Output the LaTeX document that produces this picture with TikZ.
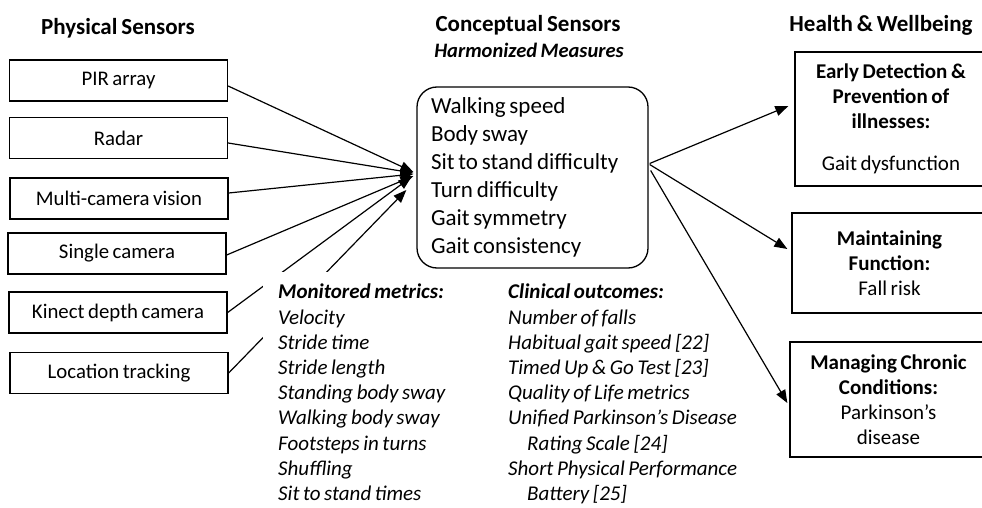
\documentclass[tikz,border=0pt]{standalone}
\usepackage{fontspec}
\setmainfont{Carlito}[WordSpace=0.75]
\usetikzlibrary{arrows.meta,backgrounds}
\begin{document}
\begin{tikzpicture}[x=1pt,y=-1pt,
  sbox/.style={draw, line width=1.3pt, minimum width=218pt, minimum height=41pt, inner sep=0pt, font=\fontsize{20.8}{24}\selectfont},
  title/.style={inner sep=0pt, font=\fontsize{23}{28}\selectfont\bfseries},
  subtitle/.style={inner sep=0pt, font=\fontsize{20.5}{25}\selectfont\bfseries\itshape},
  cbox/.style={draw, line width=1.3pt, rounded corners=20pt, text width=203pt, inner xsep=14pt, inner ysep=0pt, minimum height=181pt, align=left, font=\fontsize{23}{28}\selectfont},
  hbox/.style={draw, line width=1.3pt, inner sep=0pt, align=center, font=\fontsize{21}{25}\selectfont},
  metric/.style={anchor=north west, align=left, inner xsep=15pt, inner ysep=12pt, font=\fontsize{21}{25.2}\selectfont\itshape},
  conn/.style={line width=1.2pt},
  arr/.style={conn, -{Triangle[length=13pt,width=10pt]}}
]
\useasboundingbox (0,0) rectangle (982,508);
\clip (0,0) rectangle (982,508);

% titles
\node[title] (tphys) at (118,28) {Physical Sensors};
\node[title] (tconc) at (528,25) {Conceptual Sensors};
\node[subtitle] (tharm) at (529,50) {Harmonized Measures};
\node[title] (thealth) at (881,25) {Health \& Wellbeing};

% physical sensors
\node[sbox] (pir)  at (118.5,80.5) {PIR array};
\node[sbox] (rad)  at (118.5,138) {Radar};
\node[sbox] (mcv)  at (119,198.5) {Multi-camera vision};
\node[sbox] (sc)   at (117,253.5) {Single camera};
\node[sbox] (kin)  at (118,312.5) {Kinect depth camera};
\node[sbox] (loc)  at (119,373) {Location tracking};

% conceptual sensors
\node[cbox] (cs) at (532.5,177.5) {\spaceskip=0pt\xspaceskip=0pt\relax Walking speed\\Body sway\\Sit to stand difficulty\\Turn difficulty\\Gait symmetry\\Gait consistency};

% health boxes
\node[hbox, minimum width=192pt, minimum height=134pt] (ed) at (891,119)
  {\textbf{Early Detection \&}\\\textbf{Prevention of}\\\textbf{illnesses:}\\[17pt]Gait dysfunction};
\node[hbox, minimum width=195pt, minimum height=100pt] (mf) at (889.5,263)
  {\textbf{Maintaining}\\\textbf{Function:}\\Fall risk};
\node[hbox, minimum width=197pt, minimum height=115pt] (mc) at (888.5,399.5)
  {\textbf{Managing Chronic}\\\textbf{Conditions:}\\Parkinson’s\\disease};

% monitored metrics (white background hides the connectors behind it)
\node[metric, fill=white] (mm) at (263,272)
  {\textbf{Monitored metrics:}\\Velocity\\Stride time\\Stride length\\Standing body sway\\Walking body sway\\Footsteps in turns\\Shuffling\\Sit to stand times};
\node[metric] (co) at (493,272)
  {\textbf{Clinical outcomes:}\\Number of falls\\Habitual gait speed [22]\\Timed Up \& Go Test [23]\\Quality of Life metrics\\Unified Parkinson’s Disease\\\hspace*{19pt}Rating Scale [24]\\Short Physical Performance\\\hspace*{19pt}Battery [25]};

% connectors
\begin{pgfonlayer}{background}
\draw[arr] ([shift={(0,5.5)}]pir.east) -- ([shift={(-3,-5.5)}]cs.west);
\draw[arr] ([shift={(0,5)}]rad.east) -- ([shift={(-3,-4.5)}]cs.west);
\draw[arr] ([shift={(0,-5.5)}]mcv.east) -- ([shift={(-3,-3.5)}]cs.west);
\draw[arr] ([shift={(0,1.5)}]sc.east) -- ([shift={(-3,-1.5)}]cs.west);
\draw[arr] (kin.east) -- ([shift={(-5,-0.5)}]cs.west);
\draw[arr] (loc.east) -- ([shift={(-10,12.5)}]cs.west);
\draw[arr] ([shift={(1,-14)}]cs.east) -- ([shift={(-6,-13)}]ed.west);
\draw[arr] ([shift={(1,-13)}]cs.east) -- ([shift={(-4,-14)}]mf.west);
\draw[arr] ([shift={(2,-7)}]cs.east) -- ([shift={(-2,3.5)}]mc.west);
\end{pgfonlayer}
\end{tikzpicture}
\end{document}
